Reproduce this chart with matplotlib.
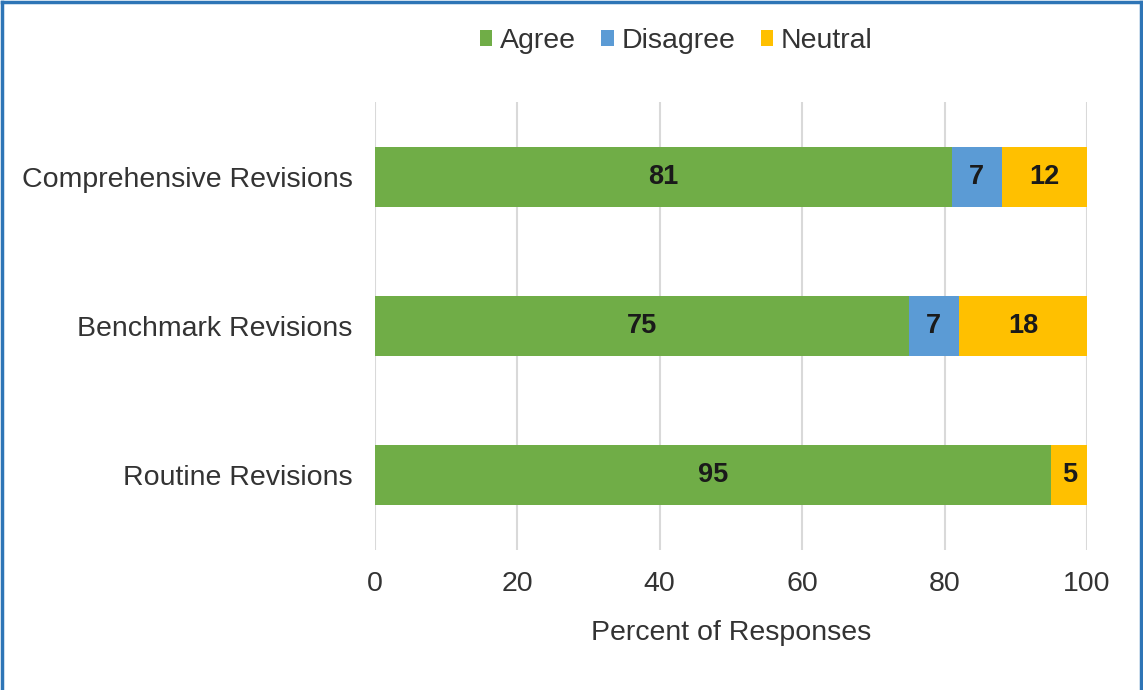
import matplotlib
matplotlib.use("Agg")
import matplotlib.pyplot as plt
from matplotlib.lines import Line2D
import numpy as np

categories = ["Routine Revisions", "Benchmark Revisions", "Comprehensive Revisions"]
agree = [95, 75, 81]
disagree = [0, 7, 7]
neutral = [5, 18, 12]
series_names = ["Agree", "Disagree", "Neutral"]
colors = ["#70AD47", "#5B9BD5", "#FFC000"]
xticks = [0, 20, 40, 60, 80, 100]

plt.rcParams['font.family'] = ['Liberation Sans', 'DejaVu Sans']
text_color = "#333333"
fs = 20.5

fig = plt.figure(figsize=(11.43, 6.9), dpi=100)
ax = fig.add_axes([0.328, 0.203, 0.623, 0.649])

y = np.arange(len(categories))
left = np.zeros(len(categories))
handles = []
for name, vals, col in zip(series_names, [agree, disagree, neutral], colors):
    vals = np.array(vals, dtype=float)
    bars = ax.barh(y, vals, left=left, height=0.4, color=col, label=name, zorder=3)
    handles.append(bars)
    for yi, v, l in zip(y, vals, left):
        if v > 0:
            ax.text(l + v / 2, yi, f"{int(v)}", ha="center", va="center",
                    fontsize=19.5, fontweight="bold", color="#1a1a1a", zorder=4)
    left += vals

ax.set_xlim(0, 100)
ax.set_ylim(-0.5, 2.5)
ax.set_xticks(xticks)
ax.set_xticklabels([str(t) for t in xticks])
ax.set_yticks(y)
ax.set_yticklabels(categories)
ax.tick_params(axis='both', length=0, labelsize=fs, colors=text_color)
ax.tick_params(axis='x', pad=15)
ax.tick_params(axis='y', pad=16)
ax.xaxis.grid(True, color="#D9D9D9", linewidth=1.5, zorder=0)
ax.set_axisbelow(True)
for s in ax.spines.values():
    s.set_visible(False)
ax.set_xlabel("Percent of Responses", fontsize=fs, color=text_color, labelpad=16.5)

fig.legend(handles=handles, labels=series_names, loc="center",
           bbox_to_anchor=(676 / 1143, 1 - 41 / 690), ncol=3, frameon=False,
           fontsize=fs, handlelength=0.45, handleheight=0.45, handletextpad=0.25,
           columnspacing=0.9, labelcolor=text_color)

border = "#2E75B6"
for xs, ys in [([0.0015, 0.0015], [0.0, 0.997]),
               ([0.0015, 0.9985], [0.997, 0.997]),
               ([0.9985, 0.9985], [0.0, 0.997])]:
    fig.lines.append(Line2D(xs, ys, transform=fig.transFigure, color=border,
                            linewidth=2.5))

fig.savefig("out.png", dpi=100)
